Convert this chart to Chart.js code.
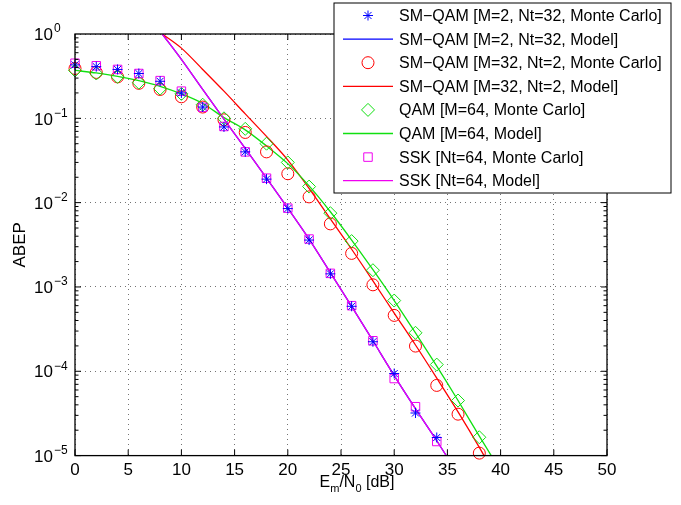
<!DOCTYPE html>
<html>
<head>
<meta charset="utf-8">
<title>ABEP vs Em/N0</title>
<script src="https://cdn.jsdelivr.net/npm/chart.js@4.4.1/dist/chart.umd.min.js"></script>
<style>
  html, body { margin: 0; padding: 0; background: #fff; }
</style>
</head>
<body>
<canvas id="abepChart" width="681" height="505"></canvas>
<script>
// Em/N0 (dB) of the Monte Carlo points
const mcSnr = [0, 2, 4, 6, 8, 10, 12, 14, 16, 18, 20, 22, 24, 26, 28, 30, 32, 34, 36, 38];

// Monte Carlo ABEP
const smQam2Mc = [0.43, 0.41, 0.38, 0.34, 0.275, 0.2, 0.136, 0.079, 0.040, 0.019, 0.0085, 0.0036,
  0.00143, 5.9e-4, 2.24e-4, 9.4e-5, 3.2e-5, 1.64e-5];
const smQam32Mc = [0.39, 0.35, 0.31, 0.26, 0.22, 0.18, 0.136, 0.096, 0.068, 0.040, 0.022, 0.0117,
  0.0056, 0.0025, 0.00106, 4.6e-4, 1.99e-4, 6.8e-5, 3.1e-5, 1.07e-5];
const qam64Mc = [0.37, 0.34, 0.31, 0.265, 0.225, 0.195, 0.145, 0.10, 0.075, 0.05, 0.03, 0.0155,
  0.0075, 0.0035, 0.00158, 6.9e-4, 2.86e-4, 1.2e-4, 4.5e-5, 1.65e-5];
const sskMc = [0.45, 0.42, 0.38, 0.34, 0.28, 0.21, 0.135, 0.08, 0.04, 0.0195, 0.0086, 0.0037,
  0.00145, 6e-4, 2.3e-4, 8.2e-5, 3.8e-5, 1.47e-5];

// analytical model curves
const sskModelSnr = [8.2, 10, 12, 14, 16, 18, 20, 22, 24, 26, 28, 30, 32, 34, 36];
const sskModel = [1.0, 0.5, 0.22, 0.098, 0.044, 0.0195, 0.0086, 0.0037, 0.00148, 5.9e-4, 2.3e-4,
  8.9e-5, 3.6e-5, 1.5e-5, 6e-6];
// SM-QAM M=2 model lies under the SSK one
const smQam2Model = [1.0, 0.5, 0.22, 0.098, 0.044, 0.0195, 0.0086, 0.0037, 0.00148, 5.9e-4, 2.3e-4,
  8.9e-5, 3.6e-5, 1.5e-5, 6e-6];
const smQam32ModelSnr = [8.2, 10, 12, 14, 16, 18, 20, 22, 24, 26, 28, 30, 32, 34, 36, 38, 40];
const smQam32Model = [1.0, 0.68, 0.38, 0.21, 0.113, 0.061, 0.032, 0.0148, 0.0064, 0.0028, 0.00118,
  4.9e-4, 2.05e-4, 8.3e-5, 3.3e-5, 1.25e-5, 4.5e-6];
const qam64ModelSnr = [0, 2, 4, 6, 8, 10, 12, 14, 16, 18, 20, 22, 24, 26, 28, 30, 32, 34, 36, 38, 40];
const qam64Model = [0.37, 0.345, 0.315, 0.28, 0.24, 0.195, 0.15, 0.102, 0.073, 0.047, 0.029, 0.0158,
  0.0078, 0.0036, 0.0016, 6.9e-4, 2.85e-4, 1.15e-4, 4.5e-5, 1.7e-5, 6.6e-6];

// axis ticks
const xTicks = [0, 5, 10, 15, 20, 25, 30, 35, 40, 45, 50];
const yTickExps = [0, -1, -2, -3, -4, -5];

const BLUE = "#0000ff";
const RED = "#ff0000";
const GREEN = "#10e010";
const MAGENTA = "#f000f0";
const FONT = "'Liberation Sans', Arial, sans-serif";

const toPoints = (xs, ys) => ys.map((v, i) => ({ x: xs[i], y: v }));

function markers(label, ys, color, style, radius, order) {
  return {
    label: label,
    data: toPoints(mcSnr, ys),
    showLine: false,
    pointStyle: style,
    pointRadius: radius,
    pointBorderWidth: 1,
    borderColor: color,
    pointBorderColor: color,
    pointBackgroundColor: "rgba(0,0,0,0)",
    clip: false,
    order: order,
  };
}

function curve(label, xs, ys, color, order) {
  return {
    label: label,
    data: toPoints(xs, ys),
    showLine: true,
    borderColor: color,
    borderWidth: 1.3,
    pointRadius: 0,
    cubicInterpolationMode: "monotone",
    order: order,
  };
}

const datasets = [
  markers("SM\u2212QAM [M=2, Nt=32, Monte Carlo]", smQam2Mc, BLUE, "star", 5, 0),
  curve("SM\u2212QAM [M=2, Nt=32, Model]", sskModelSnr, smQam2Model, BLUE, 7),
  markers("SM\u2212QAM [M=32, Nt=2, Monte Carlo]", smQam32Mc, RED, "circle", 6, 3),
  curve("SM\u2212QAM [M=32, Nt=2, Model]", smQam32ModelSnr, smQam32Model, RED, 6),
  markers("QAM [M=64, Monte Carlo]", qam64Mc, GREEN, "rectRot", 6.5, 2),
  curve("QAM [M=64, Model]", qam64ModelSnr, qam64Model, GREEN, 5),
  markers("SSK [Nt=64, Monte Carlo]", sskMc, MAGENTA, "rect", 6, 1),
  curve("SSK [Nt=64, Model]", sskModelSnr, sskModel, MAGENTA, 4),
];

// box, inside ticks, y labels with exponents, x title with subscripts
const axesDecor = {
  id: "axesDecor",
  afterDatasetsDraw(chart) {
    const { ctx, chartArea: a, scales } = chart;
    const x = scales.x, y = scales.y;
    ctx.save();
    ctx.strokeStyle = "#000";
    ctx.lineWidth = 1;
    ctx.beginPath();
    xTicks.forEach((v) => {
      const px = x.getPixelForValue(v);
      ctx.moveTo(px, a.bottom); ctx.lineTo(px, a.bottom - 6);
      ctx.moveTo(px, a.top); ctx.lineTo(px, a.top + 6);
    });
    for (let e = -5; e < 0; e++) {
      for (let m = 1; m < 10; m++) {
        const py = y.getPixelForValue(m * Math.pow(10, e));
        const len = m === 1 ? 6 : 3.5;
        ctx.moveTo(a.left, py); ctx.lineTo(a.left + len, py);
        ctx.moveTo(a.right, py); ctx.lineTo(a.right - len, py);
      }
    }
    ctx.stroke();
    ctx.lineWidth = 1.3;
    ctx.strokeRect(a.left, a.top, a.right - a.left, a.bottom - a.top);

    // y tick labels 10^e
    ctx.fillStyle = "#000";
    ctx.textAlign = "left";
    ctx.textBaseline = "middle";
    yTickExps.forEach((e) => {
      const py = y.getPixelForValue(Math.pow(10, e));
      ctx.font = "17px " + FONT;
      ctx.fillText("10", 34, py + 1.5);
      const w = ctx.measureText("10").width;
      ctx.font = "12px " + FONT;
      ctx.fillText(e === 0 ? "0" : "\u2212" + (-e), 34 + w + 1, py - 5);
    });

    // x title: E_m/N_0 [dB]
    const parts = [
      { t: "E", s: 16, dy: 0 },
      { t: "m", s: 11, dy: 5 },
      { t: "/N", s: 16, dy: 0 },
      { t: "0", s: 11, dy: 5 },
      { t: " [dB]", s: 16, dy: 0 },
    ];
    ctx.textBaseline = "alphabetic";
    let total = 0;
    parts.forEach((p) => { ctx.font = p.s + "px " + FONT; p.w = ctx.measureText(p.t).width; total += p.w; });
    let cx = 357 - total / 2;
    parts.forEach((p) => {
      ctx.font = p.s + "px " + FONT;
      ctx.fillText(p.t, cx, 487 + p.dy);
      cx += p.w;
    });

    // y title
    ctx.translate(20, (a.top + a.bottom) / 2);
    ctx.rotate(-Math.PI / 2);
    ctx.textAlign = "center";
    ctx.textBaseline = "middle";
    ctx.font = "17px " + FONT;
    ctx.fillText("ABEP", 0, 0);
    ctx.restore();
  },
};

// boxed legend in the upper right, over the axes
const boxLegend = {
  id: "boxLegend",
  afterDraw(chart) {
    const ctx = chart.ctx;
    const left = 334, top = 3, right = 671, bottom = 193;
    ctx.save();
    ctx.fillStyle = "#fff";
    ctx.fillRect(left, top, right - left, bottom - top);
    ctx.strokeStyle = "#000";
    ctx.lineWidth = 1;
    ctx.strokeRect(left, top, right - left, bottom - top);
    chart.data.datasets.forEach((ds, i) => {
      const rowY = 15.5 + i * 23.6;
      if (ds.showLine) {
        ctx.strokeStyle = ds.borderColor;
        ctx.lineWidth = ds.borderWidth;
        ctx.beginPath();
        ctx.moveTo(343, rowY);
        ctx.lineTo(393, rowY);
        ctx.stroke();
      } else {
        ctx.strokeStyle = ds.pointBorderColor;
        ctx.fillStyle = "rgba(0,0,0,0)";
        ctx.lineWidth = ds.pointBorderWidth;
        Chart.helpers.drawPoint(ctx, {
          pointStyle: ds.pointStyle, radius: ds.pointRadius, rotation: 0, borderWidth: ds.pointBorderWidth,
        }, 368, rowY);
      }
      ctx.fillStyle = "#000";
      ctx.font = "16px " + FONT;
      ctx.textAlign = "left";
      ctx.textBaseline = "middle";
      ctx.fillText(ds.label, 399, rowY + 1);
    });
    ctx.restore();
  },
};

const config = {
  type: "scatter",
  data: { datasets: datasets },
  options: {
    responsive: false,
    animation: false,
    layout: { padding: { left: 75, right: 74, top: 34, bottom: 19 } },
    plugins: { legend: { display: false }, tooltip: { enabled: false } },
    scales: {
      x: {
        type: "linear",
        min: 0,
        max: 50,
        afterBuildTicks: (scale) => { scale.ticks = xTicks.map((v) => ({ value: v })); },
        ticks: { color: "#000", font: { family: FONT, size: 17 }, padding: 5, maxRotation: 0 },
        grid: { color: "rgba(0,0,0,0.55)", lineWidth: 1, drawTicks: false },
        border: { display: false, dash: [1, 4] },
      },
      y: {
        type: "logarithmic",
        min: 1e-5,
        max: 1,
        afterBuildTicks: (scale) => { scale.ticks = yTickExps.map((e) => ({ value: Math.pow(10, e), major: true })); },
        ticks: { display: false },
        grid: { color: "rgba(0,0,0,0.55)", lineWidth: 1, drawTicks: false },
        border: { display: false, dash: [1, 4] },
      },
    },
  },
  plugins: [axesDecor, boxLegend],
};

const abepChart = new Chart(document.getElementById("abepChart"), config);
</script>
</body>
</html>
